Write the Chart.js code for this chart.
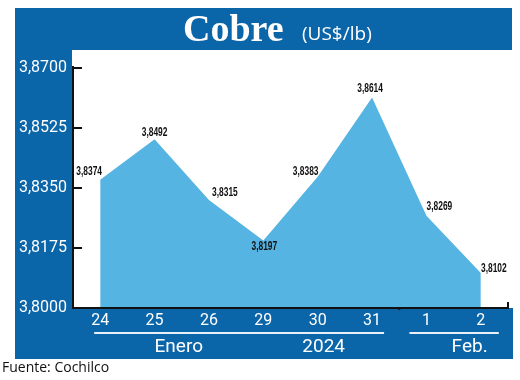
<!DOCTYPE html>
<html>
<head>
<meta charset="utf-8">
<script src="https://cdn.jsdelivr.net/npm/chart.js@4/dist/chart.umd.min.js"></script>
<style>
  html, body { margin: 0; padding: 0; background: #fff; }
  #cobre { display: block; }
</style>
</head>
<body>
<canvas id="cobre" width="520" height="380"></canvas>
<script>
// datos
var dias = ["24", "25", "26", "29", "30", "31", "1", "2"];
var precios = [3.8374, 3.8492, 3.8315, 3.8197, 3.8383, 3.8614, 3.8269, 3.8102];
var yTicks = [3.8000, 3.8175, 3.8350, 3.8525, 3.8700];
// desplazamiento de las etiquetas de valor (px)
var labelDx = [-11, 0, 16, 1, -12, -2, 13, 13];
var labelDy = [-8, -7, -7, 6, -5, -9, -9, -4];

var AZUL = "#0b65a9";
var CELESTE = "#56b4e2";

function fmt(v){
    return v.toFixed(4).replace(".", ",");
}

// fondo azul, marco y textos
var marco = {
    id: "marco",
    beforeDraw: function(chart){
        var ctx = chart.ctx;
        ctx.save();
        ctx.fillStyle = "#fff";
        ctx.fillRect(0, 0, 520, 380);
        ctx.fillStyle = AZUL;
        ctx.fillRect(15, 8, 497, 42);
        ctx.fillRect(15, 50, 57, 309);
        ctx.fillRect(72, 308, 441, 51);
        // titulo
        ctx.fillStyle = "#fff";
        ctx.textBaseline = "alphabetic";
        ctx.textAlign = "left";
        ctx.font = "bold 38px 'Liberation Serif'";
        ctx.fillText("Cobre", 183, 41);
        ctx.font = "19px 'Open Sans'";
        ctx.fillText("(US$/lb)", 302, 40);
        // fuente
        ctx.fillStyle = "#111";
        ctx.font = "14px 'Open Sans'";
        ctx.textBaseline = "middle";
        ctx.fillText("Fuente: Cochilco", 2, 368);
        ctx.restore();
    },
    afterDraw: function(chart){
        var ctx = chart.ctx;
        var x = chart.scales.x, y = chart.scales.y;
        var a = chart.chartArea;
        ctx.save();
        // ejes
        ctx.strokeStyle = "#111";
        ctx.lineWidth = 2;
        ctx.beginPath();
        ctx.moveTo(a.left, a.top - 2);
        ctx.lineTo(a.left, a.bottom);
        ctx.lineTo(a.right, a.bottom);
        ctx.lineTo(a.right, a.bottom - 6);
        ctx.stroke();
        yTicks.forEach(function(t){
            var py = y.getPixelForValue(t);
            ctx.beginPath();
            ctx.moveTo(a.left - 1, py);
            ctx.lineTo(a.left + 9, py);
            ctx.stroke();
        });
        // separacion enero / febrero
        var sep = (x.getPixelForValue(5) + x.getPixelForValue(6)) / 2;
        ctx.beginPath();
        ctx.moveTo(sep, a.bottom);
        ctx.lineTo(sep, a.bottom + 2);
        ctx.stroke();

        // etiquetas de valor
        var meta = chart.getDatasetMeta(0);
        ctx.fillStyle = "#111";
        ctx.textAlign = "center";
        ctx.textBaseline = "middle";
        ctx.font = "bold 12px 'Liberation Sans', 'DejaVu Sans', sans-serif";
        meta.data.forEach(function(pt, i){
            ctx.save();
            ctx.translate(pt.x + labelDx[i], pt.y + labelDy[i]);
            ctx.scale(0.7, 1);
            ctx.fillText(fmt(precios[i]), 0, 0);
            ctx.restore();
        });

        // meses
        var lineY = 333;
        ctx.strokeStyle = "#e8f1f8";
        ctx.lineWidth = 2;
        ctx.beginPath();
        ctx.moveTo(x.getPixelForValue(0) - 6, lineY);
        ctx.lineTo(x.getPixelForValue(5) + 12, lineY);
        ctx.moveTo(x.getPixelForValue(6) - 17, lineY);
        ctx.lineTo(x.getPixelForValue(7) + 18, lineY);
        ctx.stroke();
        ctx.fillStyle = "#fff";
        ctx.font = "19px Roboto";
        ctx.fillText("Enero", (x.getPixelForValue(1) + x.getPixelForValue(2)) / 2 - 3, 347);
        ctx.fillText("2024", x.getPixelForValue(4) + 6, 347);
        ctx.fillText("Feb.", (x.getPixelForValue(6) + x.getPixelForValue(7)) / 2 + 16, 347);
        ctx.restore();
    }
};

var chart = new Chart(document.getElementById("cobre"), {
    type: "line",
    data: {
        labels: dias,
        datasets: [{
            data: precios,
            fill: "start",
            backgroundColor: CELESTE,
            borderWidth: 0,
            pointRadius: 0,
            tension: 0
        }]
    },
    options: {
        responsive: false,
        animation: false,
        layout: { padding: { top: 68, right: 12, left: 0, bottom: 0 } },
        plugins: {
            legend: { display: false },
            tooltip: { enabled: false }
        },
        scales: {
            x: {
                offset: true,
                grid: { display: false, drawTicks: false },
                border: { display: false },
                ticks: { color: "#fff", font: { family: "Roboto", size: 16 }, padding: 3, maxRotation: 0 },
                afterFit: function(s){ s.height = 72; }
            },
            y: {
                min: 3.80,
                max: 3.87,
                afterBuildTicks: function(s){
                    s.ticks = yTicks.map(function(v){ return { value: v }; });
                },
                grid: { display: false, drawTicks: false },
                border: { display: false },
                ticks: {
                    color: "#fff",
                    font: { family: "Roboto", size: 16 },
                    padding: 6,
                    callback: function(v){ return fmt(v); }
                },
                afterFit: function(s){ s.width = 73; }
            }
        }
    },
    plugins: [marco]
});
</script>
</body>
</html>
